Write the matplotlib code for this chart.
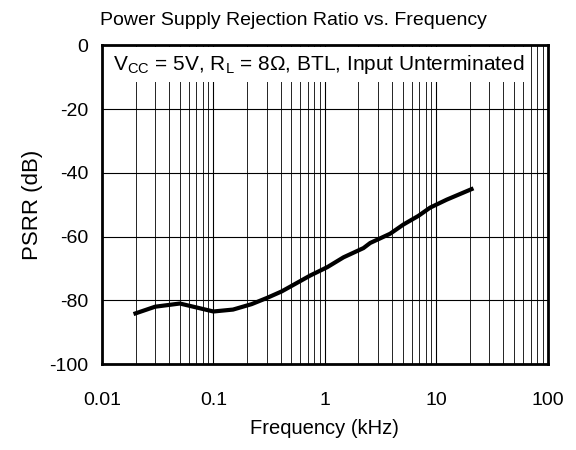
import matplotlib
matplotlib.use("Agg")
import matplotlib.pyplot as plt
from matplotlib.ticker import LogLocator, NullFormatter

plt.rcParams['font.family'] = ['Liberation Sans', 'DejaVu Sans']
plt.rcParams['mathtext.fontset'] = 'custom'
plt.rcParams['mathtext.rm'] = 'Liberation Sans'

# PSRR curve
freq_khz = [0.02, 0.03, 0.05, 0.1, 0.15, 0.22, 0.3, 0.41, 0.74, 1.05,
            1.47, 2.22, 2.55, 3.85, 5.07, 6.9, 8.8, 12.4, 20.7]
psrr_db = [-84.1, -82.0, -81.0, -83.5, -82.9, -81.2, -79.3, -77.2, -72.2, -69.6,
           -66.5, -63.6, -62.0, -59.1, -56.2, -53.5, -50.9, -48.4, -45.1]

x_ticks = [0.01, 0.1, 1, 10, 100]
x_tick_labels = ['0.01', '0.1', '1', '10', '100']
y_ticks = [0, -20, -40, -60, -80, -100]
y_tick_labels = ['0', '-20', '-40', '-60', '-80', '-100']

fig = plt.figure(figsize=(5.76, 4.5), dpi=100)
ax = fig.add_axes([0.177, 0.191, 0.774, 0.708])

ax.plot(freq_khz, psrr_db, color='black', linewidth=3, zorder=3)

ax.set_xscale('log')
ax.set_xlim(0.01, 100)
ax.set_ylim(-100, 0)
ax.set_xticks(x_ticks)
ax.set_xticklabels(x_tick_labels)
ax.xaxis.set_minor_locator(LogLocator(base=10, subs=range(2, 10), numticks=20))
ax.xaxis.set_minor_formatter(NullFormatter())
ax.set_yticks(y_ticks)
ax.set_yticklabels(y_tick_labels)

ax.grid(which='major', color='black', linewidth=0.8)
ax.grid(which='minor', axis='x', color='black', linewidth=0.6)
ax.tick_params(which='both', length=0, labelsize=14)
ax.tick_params(axis='x', pad=20)
ax.tick_params(axis='y', pad=10)

for s in ax.spines.values():
    s.set_linewidth(2)

ax.set_xlabel('Frequency (kHz)', fontsize=14.5, labelpad=7)
ax.set_ylabel('PSRR (dB)', fontsize=16, labelpad=4)
fig.text(0.51, 0.955, 'Power Supply Rejection Ratio vs. Frequency',
         ha='center', va='center', fontsize=14)

ax.text(0.486, 0.94, r'V$_{\mathregular{CC}}$ = 5V, R$_{\mathregular{L}}$ = 8Ω, BTL, Input Unterminated',
        transform=ax.transAxes, ha='center', va='center', fontsize=15,
        bbox=dict(facecolor='white', edgecolor='none', pad=4), zorder=4)

fig.savefig('out.png', dpi=100)
